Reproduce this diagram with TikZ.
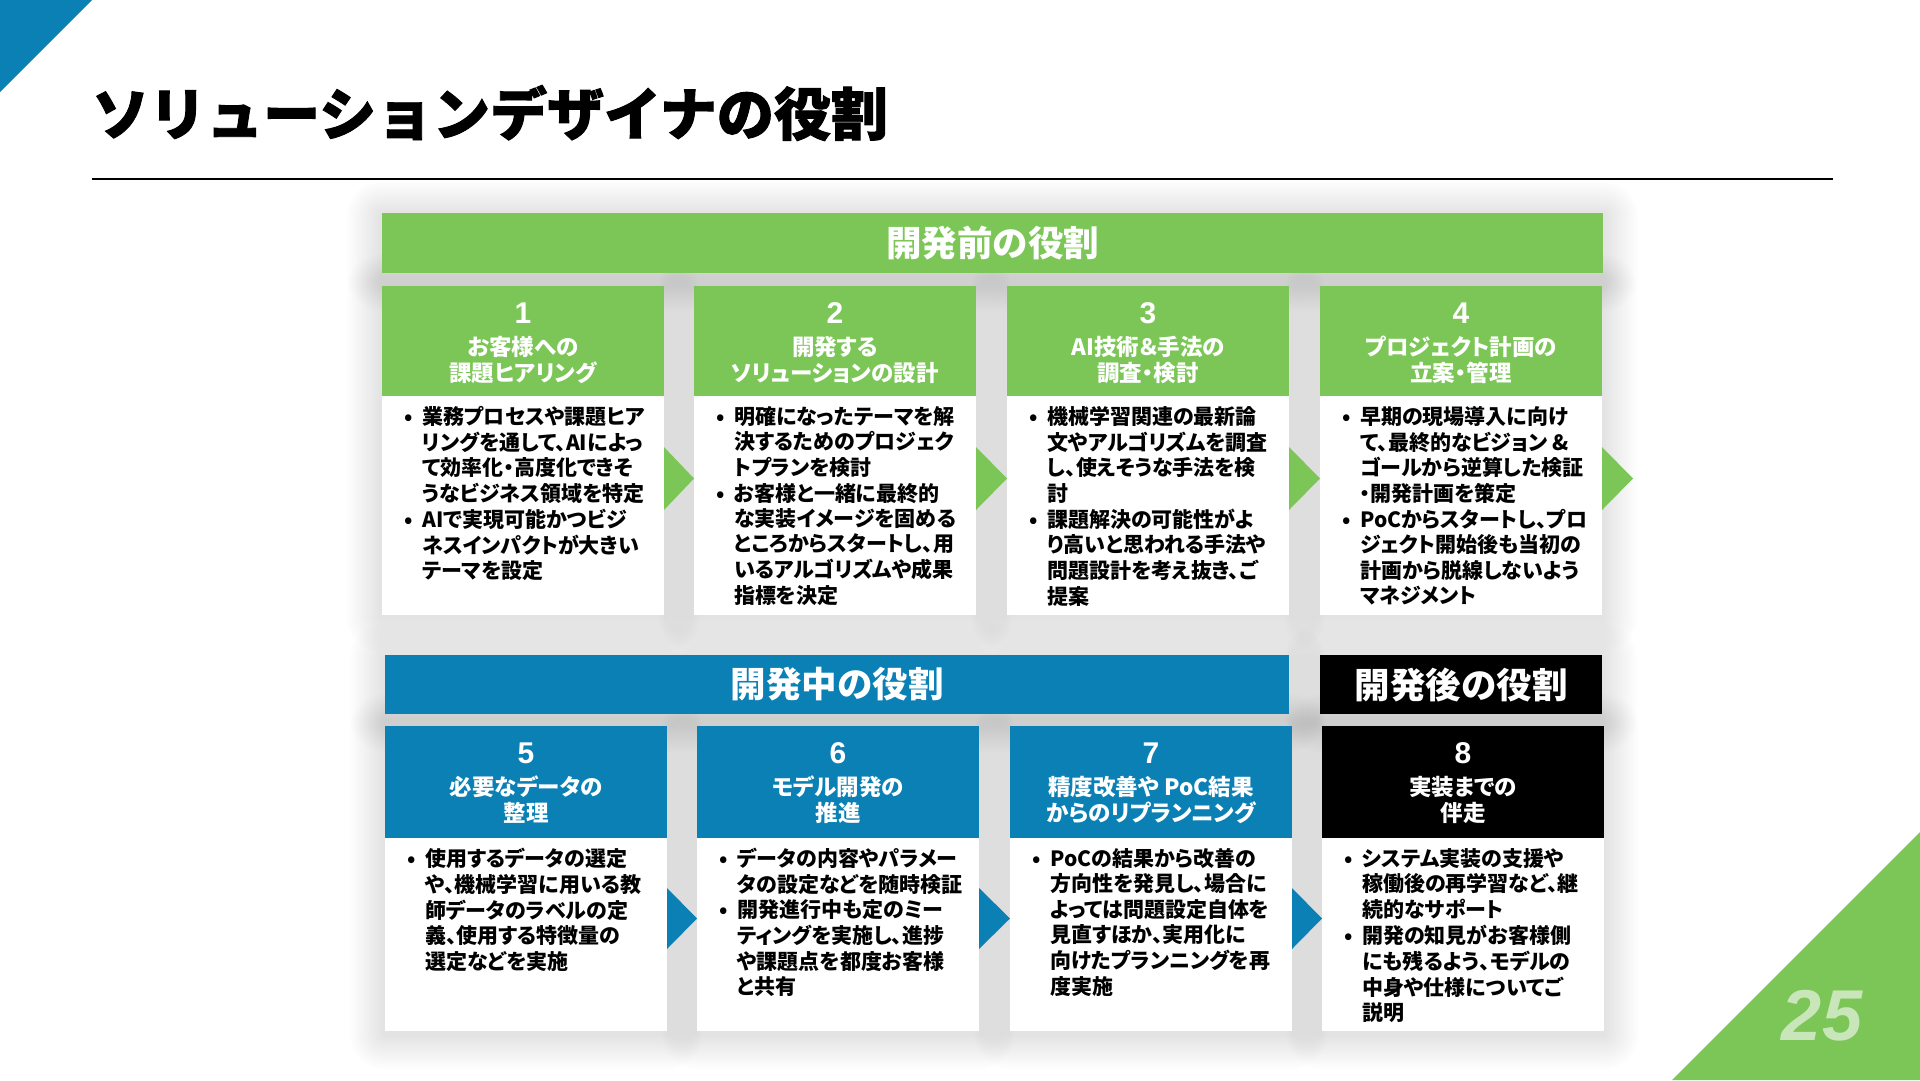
\documentclass[tikz,border=0pt]{standalone}
\usepackage{fontspec}
\setmainfont{Noto Sans CJK JP}
\newfontfamily\jpp{Noto Sans CJK JP}[RawFeature=+palt]
\newfontfamily\titlef{Noto Sans CJK JP}[FakeBold=1.6]
\newfontfamily\numf{Liberation Sans}
\usetikzlibrary{calc}
\definecolor{grn}{RGB}{123,198,86}
\definecolor{blu}{RGB}{11,128,181}
\definecolor{pgn}{RGB}{200,230,185}
\tikzset{
  bx/.style={draw=none, rectangle, inner sep=0pt, outer sep=0pt},
  numtxt/.style={text=white, inner sep=0pt, font=\numf\bfseries\fontsize{30}{32}\selectfont},
  hdtxt/.style={text=white, align=center, inner sep=0pt, font=\jpp\bfseries\fontsize{22.5}{26}\selectfont},
  bodytxt/.style={anchor=north west, inner sep=0pt, font=\jpp\bfseries\fontsize{21}{25}\selectfont},
  bartxt/.style={text=white, inner sep=0pt, font=\bfseries\fontsize{35.5}{40}\selectfont},
  shdlayer/.style={fill=black, opacity=0.009},
}
% soft shadow: #1 left x, #2 top y, #3 width, #4 height
\newcommand\softshadow[4]{%
  \foreach \i in {1,...,14}{
    \pgfmathsetmacro\rr{\i*2.5}
    \fill[shdlayer, rounded corners=\rr pt] ($(#1,#2)+(-\rr,-\rr+3)$) rectangle ($(#1,#2)+(#3+\rr,#4+\rr+3)$);
  }
}
\newenvironment{blist}{\begin{tabular}{@{}p{18pt}@{}l@{}}}{\end{tabular}}
% #1 name, #2 left x, #3 top y, #4 header h, #5 body h, #6 colour, #7 number, #8 header text, #9 body
\newcommand\rolebox[9]{%
  \node[bx, fill=#6, minimum width=282pt, minimum height=#4pt, anchor=north west] (#1h) at (#2,#3) {};
  \node[bx, fill=white, minimum width=282pt, minimum height=#5pt, anchor=north west] (#1b) at (#1h.south west) {};
  \node[numtxt] (#1n) at ($(#1h.north)+(0,27)$) {#7};
  \node[hdtxt] (#1t) at ($(#1h.north)+(0,74)$) {#8};
  \node[bodytxt] (#1x) at ($(#1b.north west)+(22,10)$) {#9};
}
\begin{document}
\begin{tikzpicture}[x=1pt,y=-1pt]
\useasboundingbox (0,0) rectangle (1920,1080);
\fill[white] (0,0) rectangle (1920,1080);
% shadows (drawn first)
\softshadow{382}{213}{1221}{60}
\softshadow{385}{655}{904}{59}
\softshadow{1320}{655}{282}{59}
\foreach \x in {382,694,1007,1320}{\softshadow{\x}{286}{282}{329}}
\foreach \x in {385,697,1010,1322}{\softshadow{\x}{726}{282}{305}}
% corner decorations
\fill[blu] (0,0) -- (92,0) -- (0,92) -- cycle;
\fill[grn] (1920,832) -- (1920,1080) -- (1672,1080) -- cycle;
\node[font=\numf\bfseries\itshape\fontsize{72}{72}\selectfont, text=pgn, inner sep=0pt] (pg) at (1822,1016) {25};
% title
\node[anchor=west, inner sep=0pt, font=\titlef\bfseries\fontsize{57}{60}\selectfont] (title) at (92,113) {ソリューションデザイナの役割};
\draw[line width=1.5pt] (92,179) -- (1833,179);
% phase bars
\node[bx, fill=grn, minimum width=1221pt, minimum height=60pt, anchor=north west] (bar1) at (382,213) {};
\node[bartxt] (bar1t) at (bar1) {開発前の役割};
\node[bx, fill=blu, minimum width=904pt, minimum height=59pt, anchor=north west] (bar2) at (385,655) {};
\node[bartxt] (bar2t) at (bar2) {開発中の役割};
\node[bx, fill=black, minimum width=282pt, minimum height=59pt, anchor=north west] (bar3) at (1320,655) {};
\node[bartxt] (bar3t) at (bar3) {開発後の役割};
% row 1
\rolebox{r1}{382}{286}{110}{219}{grn}{1}{お客様への\\課題ヒアリング}{\begin{blist}
• & 業務プロセスや課題ヒア\\
  & リングを通して、AIによっ\\
  & て効率化・高度化できそ\\
  & うなビジネス領域を特定\\
• & AIで実現可能かつビジ\\
  & ネスインパクトが大きい\\
  & テーマを設定
\end{blist}}
\rolebox{r2}{694}{286}{110}{219}{grn}{2}{開発する\\ソリューションの設計}{\begin{blist}
• & 明確になったテーマを解\\
  & 決するためのプロジェク\\
  & トプランを検討\\
• & お客様と一緒に最終的\\
  & な実装イメージを固める\\
  & ところからスタートし、用\\
  & いるアルゴリズムや成果\\
  & 指標を決定
\end{blist}}
\rolebox{r3}{1007}{286}{110}{219}{grn}{3}{AI技術＆手法の\\調査・検討}{\begin{blist}
• & 機械学習関連の最新論\\
  & 文やアルゴリズムを調査\\
  & し、使えそうな手法を検\\
  & 討\\
• & 課題解決の可能性がよ\\
  & り高いと思われる手法や\\
  & 問題設計を考え抜き、ご\\
  & 提案
\end{blist}}
\rolebox{r4}{1320}{286}{110}{219}{grn}{4}{プロジェクト計画の\\立案・管理}{\begin{blist}
• & 早期の現場導入に向け\\
  & て、最終的なビジョン \&\\
  & ゴールから逆算した検証\\
  & ・開発計画を策定\\
• & PoCからスタートし、プロ\\
  & ジェクト開始後も当初の\\
  & 計画から脱線しないよう\\
  & マネジメント
\end{blist}}
% row 2
\rolebox{r5}{385}{726}{112}{193}{blu}{5}{必要なデータの\\整理}{\begin{blist}
• & 使用するデータの選定\\
  & や、機械学習に用いる教\\
  & 師データのラベルの定\\
  & 義、使用する特徴量の\\
  & 選定などを実施
\end{blist}}
\rolebox{r6}{697}{726}{112}{193}{blu}{6}{モデル開発の\\推進}{\begin{blist}
• & データの内容やパラメー\\
  & タの設定などを随時検証\\
• & 開発進行中も定のミー\\
  & ティングを実施し、進捗\\
  & や課題点を都度お客様\\
  & と共有
\end{blist}}
\rolebox{r7}{1010}{726}{112}{193}{blu}{7}{精度改善や PoC結果\\からのリプランニング}{\begin{blist}
• & PoCの結果から改善の\\
  & 方向性を発見し、場合に\\
  & よっては問題設定自体を\\
  & 見直すほか、実用化に\\
  & 向けたプランニングを再\\
  & 度実施
\end{blist}}
\rolebox{r8}{1322}{726}{112}{193}{black}{8}{実装までの\\伴走}{\begin{blist}
• & システム実装の支援や\\
  & 稼働後の再学習など、継\\
  & 続的なサポート\\
• & 開発の知見がお客様側\\
  & にも残るよう、モデルの\\
  & 中身や仕様についてご\\
  & 説明
\end{blist}}
% chevrons row 1
\foreach \a/\b in {r1h/r2h, r2h/r3h, r3h/r4h}{
  \fill[grn] (\a.east |- 0,447) -- ($(\b.west |- 0,478.5)$) -- (\a.east |- 0,510) -- cycle;
}
\fill[grn] (r4h.east |- 0,447) -- ($(r4h.east |- 0,478.5)+(31,0)$) -- (r4h.east |- 0,510) -- cycle;
% chevrons row 2
\foreach \a/\b in {r5h/r6h, r6h/r7h, r7h/r8h}{
  \fill[blu] (\a.east |- 0,888) -- ($(\b.west |- 0,918.5)$) -- (\a.east |- 0,949) -- cycle;
}
\end{tikzpicture}
\end{document}
